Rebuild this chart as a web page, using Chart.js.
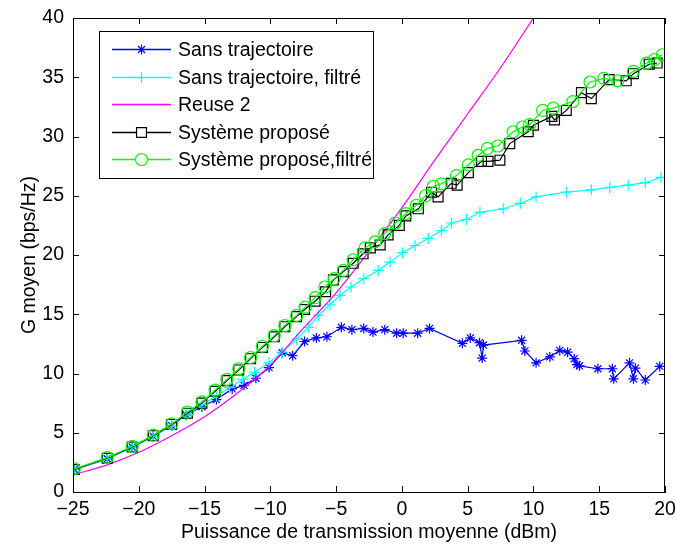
<!DOCTYPE html>
<html>
<head>
<meta charset="utf-8">
<script src="https://cdn.jsdelivr.net/npm/chart.js@4.4.0/dist/chart.umd.min.js"></script>
<style>
  html, body { margin: 0; padding: 0; background: #fff; }
  #chart { display: block; }
</style>
</head>
<body>
<canvas id="chart" width="677" height="547"></canvas>
<script>
// values
const sansTrajX = [-24.9, -22.4, -20.5, -18.9, -17.5, -16.4, -15.2, -14.1, -12.9, -12.0, -11.1, -10.1, -9.1, -8.3, -7.4, -6.5, -5.7, -4.6, -3.8, -2.9, -2.2, -1.3, -0.4, 0.1, 1.2, 2.1, 4.6, 5.2, 5.9, 6.1, 6.2, 9.1, 9.35, 10.2, 11.25, 12.0, 12.6, 13.1, 13.3, 13.5, 14.9, 16.0, 16.1, 17.3, 17.6, 17.75, 18.5, 19.6];
const sansTrajY = [1.9, 2.8, 3.8, 4.7, 5.6, 6.5, 7.2, 7.8, 8.7, 9.0, 9.6, 10.5, 11.75, 11.5, 12.7, 13.0, 13.1, 13.9, 13.7, 13.8, 13.5, 13.7, 13.4, 13.4, 13.4, 13.8, 12.55, 13.0, 12.6, 11.3, 12.4, 12.8, 11.9, 10.9, 11.4, 11.95, 11.8, 11.25, 10.75, 10.65, 10.4, 10.4, 9.55, 10.9, 9.55, 10.45, 9.45, 10.6];

const sansTrajFiltX = [-24.9, -22.4, -20.5, -18.9, -17.5, -16.4, -15.2, -14.1, -13.1, -12.1, -11.2, -10.1, -9.1, -8.0, -7.1, -6.35, -5.47, -4.7, -3.87, -2.9, -1.8, -0.9, 0.05, 1.0, 2.0, 3.0, 3.77, 4.9, 5.93, 7.7, 9.0, 10.2, 12.5, 14.4, 15.8, 17.2, 18.5, 19.7];
const sansTrajFiltY = [1.9, 2.8, 3.8, 4.7, 5.6, 6.5, 7.35, 8.1, 8.8, 9.5, 10.1, 10.9, 11.8, 12.9, 13.9, 14.9, 15.8, 16.6, 17.3, 18.0, 18.7, 19.4, 20.2, 20.8, 21.4, 22.05, 22.7, 23.0, 23.6, 23.9, 24.35, 24.9, 25.3, 25.5, 25.7, 25.9, 26.1, 26.55];

const reuseX = [-25, -22.5, -20, -17.5, -15, -12.5, -10, -7.5, -5, -2.5, 0, 2.5, 5, 7.5, 10];
const reuseY = [1.45, 2.25, 3.35, 4.75, 6.35, 8.35, 10.7, 13.8, 16.8, 20.3, 24.0, 28.0, 31.9, 35.8, 40.0];

const propX = [-24.9, -22.4, -20.5, -18.9, -17.5, -16.3, -15.2, -14.2, -13.3, -12.4, -11.5, -10.6, -9.7, -8.9, -8.0, -7.4, -6.6, -5.8, -5.2, -4.45, -3.7, -2.95, -2.4, -1.65, -1.05, -0.2, 0.3, 1.25, 2.25, 2.75, 3.75, 4.2, 5.05, 6.05, 6.55, 7.45, 8.2, 9.6, 10.0, 11.4, 11.6, 12.5, 13.65, 14.4, 15.75, 17.05, 17.6, 18.8, 19.4];
const propY = [1.9, 2.85, 3.8, 4.75, 5.7, 6.65, 7.5, 8.5, 9.4, 10.3, 11.25, 12.2, 13.1, 13.95, 14.8, 15.4, 16.1, 16.9, 17.9, 18.6, 19.3, 20.1, 20.6, 20.85, 21.7, 22.5, 23.3, 23.9, 25.3, 24.9, 26.05, 25.9, 26.95, 27.9, 27.9, 28.0, 29.4, 30.4, 30.95, 31.7, 31.4, 32.2, 33.7, 33.2, 34.8, 34.7, 35.3, 36.1, 36.2];

const propFiltX = [-24.9, -22.4, -20.5, -18.9, -17.5, -16.3, -15.2, -14.2, -13.3, -12.4, -11.5, -10.6, -9.7, -8.9, -8.0, -7.35, -6.6, -5.85, -5.15, -4.45, -3.7, -2.8, -2.05, -1.3, -0.5, 0.3, 1.1, 1.8, 2.4, 3.0, 4.15, 5.05, 5.8, 6.5, 7.3, 8.45, 9.15, 9.7, 10.7, 11.5, 13.0, 14.3, 15.35, 16.4, 17.6, 18.6, 19.2, 19.8];
const propFiltY = [1.95, 2.9, 3.85, 4.8, 5.75, 6.75, 7.6, 8.6, 9.5, 10.4, 11.35, 12.3, 13.2, 14.05, 14.9, 15.6, 16.4, 17.3, 18.0, 18.7, 19.6, 20.6, 21.1, 21.8, 22.7, 23.5, 24.2, 25.0, 25.8, 26.0, 26.7, 27.6, 28.4, 29.0, 29.2, 30.4, 30.8, 31.0, 32.2, 32.4, 32.95, 34.6, 34.9, 34.7, 35.5, 36.2, 36.5, 36.9];

const xTicks = [-25, -20, -15, -10, -5, 0, 5, 10, 15, 20];
const yTicks = [0, 5, 10, 15, 20, 25, 30, 35, 40];

const FONT = "'Liberation Sans', Arial, Helvetica, sans-serif";

const pairs = (xs, ys) => xs.map((x, i) => ({ x: x, y: ys[i] }));
const minus = (v) => String(v).replace('-', '\u2212');

// box around the plot, ticks pointing inward (matlab style)
const frame = {
	id: 'frame',
	afterDatasetsDraw(chart) {
		const { ctx, chartArea: a, scales: { x, y } } = chart;
		ctx.save();
		ctx.strokeStyle = '#000';
		ctx.lineWidth = 1;
		ctx.strokeRect(a.left + 0.5, a.top + 0.5, a.right - a.left - 1, a.bottom - a.top);
		ctx.beginPath();
		xTicks.forEach(v => {
			const px = Math.round(x.getPixelForValue(v)) + 0.5;
			ctx.moveTo(px, a.bottom); ctx.lineTo(px, a.bottom - 6);
			ctx.moveTo(px, a.top); ctx.lineTo(px, a.top + 6);
		});
		yTicks.forEach(v => {
			const py = Math.round(y.getPixelForValue(v)) + 0.5;
			ctx.moveTo(a.left, py); ctx.lineTo(a.left + 6, py);
			ctx.moveTo(a.right, py); ctx.lineTo(a.right - 6, py);
		});
		ctx.stroke();
		ctx.restore();
	}
};

// legend box with line + marker samples
const legendBox = {
	id: 'legendBox',
	afterDraw(chart) {
		const ctx = chart.ctx;
		const left = 99, top = 31, w = 274, h = 147, rowH = 27.5;
		ctx.save();
		ctx.fillStyle = '#fff';
		ctx.fillRect(left, top, w, h);
		ctx.strokeStyle = '#000';
		ctx.lineWidth = 1;
		ctx.strokeRect(left + 0.5, top + 0.5, w, h);
		chart.data.datasets.forEach((ds, i) => {
			const cy = Math.round(top + 18 + i * rowH) + 0.5;
			ctx.strokeStyle = ds.borderColor;
			ctx.lineWidth = 1.5;
			ctx.beginPath();
			ctx.moveTo(112, cy);
			ctx.lineTo(171, cy);
			ctx.stroke();
			if (ds.pointRadius > 0) {
				ctx.fillStyle = '#fff';
				ctx.lineWidth = 1.2;
				Chart.helpers.drawPoint(ctx, {
					pointStyle: ds.pointStyle,
					radius: ds.pointRadius,
					borderWidth: 1.2,
					rotation: 0
				}, 141.5, cy);
			}
			ctx.fillStyle = '#000';
			ctx.font = '19.5px ' + FONT;
			ctx.textBaseline = 'middle';
			ctx.textAlign = 'left';
			ctx.fillText(ds.label, 178, cy + 1);
		});
		ctx.restore();
	}
};

const mkSet = (label, xs, ys, color, style, radius, order) => ({
	label: label,
	data: pairs(xs, ys),
	borderColor: color,
	backgroundColor: color,
	borderWidth: 1.2,
	pointStyle: style,
	pointRadius: radius,
	pointBorderColor: color,
	pointBackgroundColor: 'rgba(0,0,0,0)',
	pointBorderWidth: 1.2,
	pointHoverRadius: radius,
	tension: 0,
	order: order
});

const datasets = [
	mkSet('Sans trajectoire', sansTrajX, sansTrajY, '#0000ff', 'star', 5, 5),
	mkSet('Sans trajectoire, filtré', sansTrajFiltX, sansTrajFiltY, '#00ffff', 'cross', 5.5, 4),
	mkSet('Reuse 2', reuseX, reuseY, '#ff00ff', 'circle', 0, 3),
	mkSet('Système proposé', propX, propY, '#000000', 'rect', 7, 2),
	mkSet('Système proposé,filtré', propFiltX, propFiltY, '#00ff00', 'circle', 6, 1)
];
datasets[2].cubicInterpolationMode = 'monotone';

new Chart(document.getElementById('chart'), {
	type: 'line',
	data: { datasets: datasets },
	options: {
		responsive: false,
		animation: false,
		layout: { padding: { top: 18, right: 12, left: 0, bottom: 0 } },
		plugins: {
			legend: { display: false },
			tooltip: { enabled: false }
		},
		scales: {
			x: {
				type: 'linear',
				min: -25,
				max: 20,
				afterFit: (s) => { s.height = 55; s.paddingLeft = 0; s.paddingRight = 0; },
				afterBuildTicks: (s) => { s.ticks = xTicks.map(v => ({ value: v })); },
				grid: { display: false, drawTicks: false },
				border: { display: true, color: '#000', width: 1 },
				ticks: {
					padding: 6,
					color: '#000',
					maxRotation: 0,
					font: { family: FONT, size: 19.5 },
					callback: minus
				},
				title: {
					display: true,
					text: 'Puissance de transmission moyenne (dBm)',
					color: '#000',
					font: { family: FONT, size: 19.5 },
					padding: { top: 0, bottom: 3 }
				}
			},
			y: {
				type: 'linear',
				min: 0,
				max: 40,
				afterFit: (s) => { s.width = 73; s.paddingTop = 0; s.paddingBottom = 0; },
				afterBuildTicks: (s) => { s.ticks = yTicks.map(v => ({ value: v })); },
				grid: { display: false, drawTicks: false },
				border: { display: true, color: '#000', width: 1 },
				ticks: {
					padding: 9,
					color: '#000',
					font: { family: FONT, size: 19.5 },
					callback: minus
				},
				title: {
					display: true,
					text: 'G moyen (bps/Hz)',
					color: '#000',
					font: { family: FONT, size: 19.5 },
					padding: { top: 18, bottom: 0 }
				}
			}
		}
	},
	plugins: [frame, legendBox]
});
</script>
</body>
</html>
